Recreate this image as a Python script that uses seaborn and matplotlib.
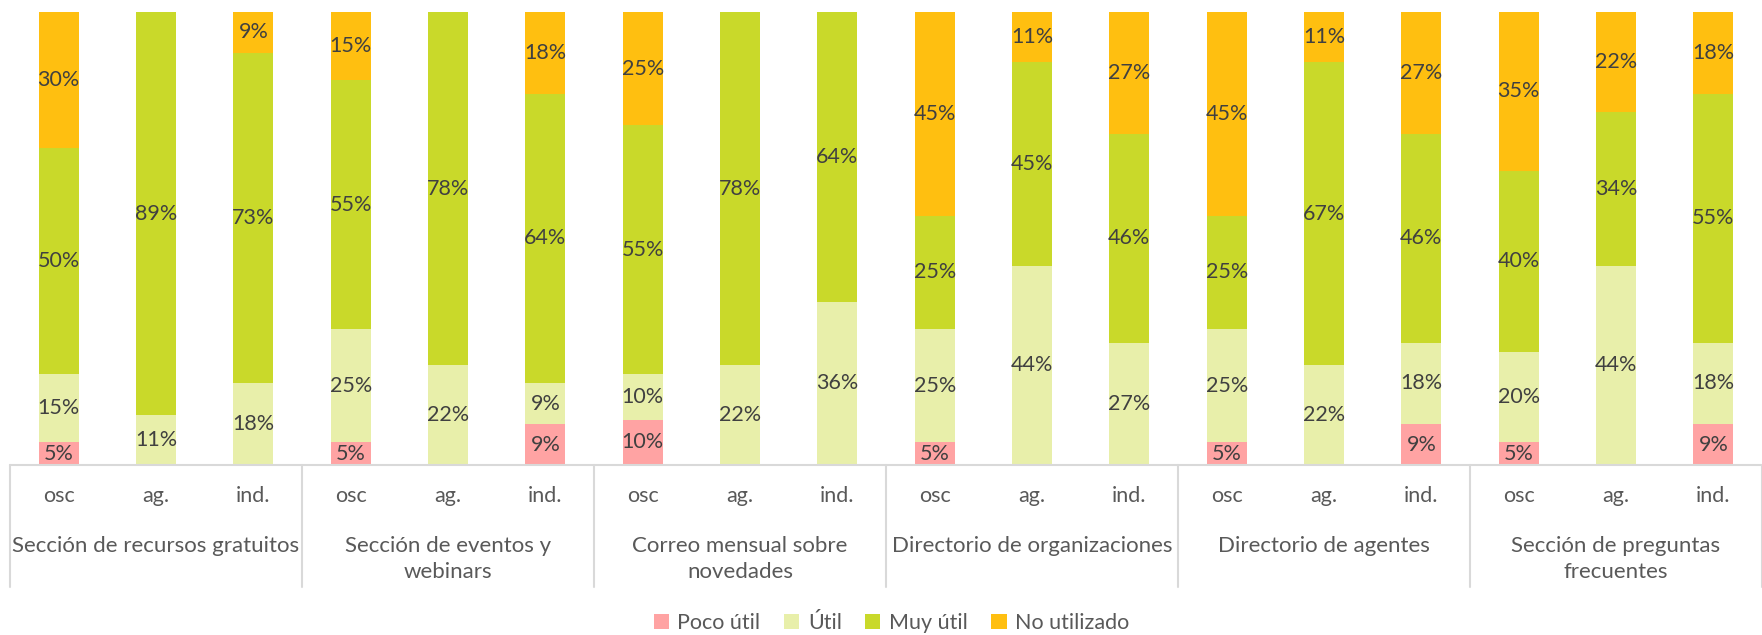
import matplotlib
matplotlib.use("Agg")
import matplotlib.pyplot as plt
import seaborn as sns
import pandas as pd
import numpy as np
from matplotlib.patches import Patch

groups = ["Sección de recursos gratuitos", "Sección de eventos y\nwebinars",
          "Correo mensual sobre\nnovedades", "Directorio de organizaciones",
          "Directorio de agentes", "Sección de preguntas\nfrecuentes"]
subgroups = ["osc", "ag.", "ind."]

series = ["Poco útil", "Útil", "Muy útil", "No utilizado"]
poco_util = [5, 0, 0, 5, 0, 9, 10, 0, 0, 5, 0, 0, 5, 0, 9, 5, 0, 9]
util = [15, 11, 18, 25, 22, 9, 10, 22, 36, 25, 44, 27, 25, 22, 18, 20, 44, 18]
muy_util = [50, 89, 73, 55, 78, 64, 55, 78, 64, 25, 45, 46, 25, 67, 46, 40, 34, 55]
no_utilizado = [30, 0, 9, 15, 0, 18, 25, 0, 0, 45, 11, 27, 45, 11, 27, 35, 22, 18]

colors = ["#FFA3A3", "#E8EFAA", "#C9D92A", "#FFBF10"]
text_col = "#404040"
axis_col = "#595959"

sns.set_theme(style="white")
plt.rcParams["font.family"] = ["Lato", "DejaVu Sans"]

vals = np.array([poco_util, util, muy_util, no_utilizado])
cum = vals.cumsum(axis=0)
n = vals.shape[1]
df = pd.DataFrame({"pos": np.arange(n)})
for k in range(4):
    df[f"cum{k}"] = cum[k]

W, H = 1762, 635
fig = plt.figure(figsize=(W / 100, H / 100), dpi=100)
ax = fig.add_axes([10 / W, 170 / H, 1752 / W, 453 / H])

# overlapping cumulative bars, tallest first
for k in range(3, -1, -1):
    sns.barplot(data=df, x="pos", y=f"cum{k}", color=colors[k], width=0.41,
                saturation=1, linewidth=0, ax=ax)

for k in range(4):
    for i in range(n):
        v = vals[k, i]
        if v > 0:
            ax.text(i, cum[k, i] - v / 2, f"{v}%", ha="center", va="center",
                    fontsize=15.5, color=text_col)

ax.set_xlim(-0.5, n - 0.5)
ax.set_ylim(0, 100)
ax.set_xticks([])
ax.set_yticks([])
ax.set_xlabel("")
ax.set_ylabel("")
for s in ax.spines.values():
    s.set_visible(False)

tr = ax.get_xaxis_transform()
ax.plot([-0.5, n - 0.5], [0, 0], color="#D9D9D9", lw=1.5, transform=tr, clip_on=False)
for b in np.arange(-0.5, n, 3):
    ax.plot([b, b], [0, -122 / 453], color="#D9D9D9", lw=1.5, transform=tr, clip_on=False)

for i in range(n):
    ax.text(i, -31 / 453, subgroups[i % 3], ha="center", va="center",
            fontsize=15.5, color=axis_col, transform=tr)
for g, name in enumerate(groups):
    ax.text(g * 3 + 1, -71 / 453, name, ha="center", va="top", fontsize=16,
            color=axis_col, transform=tr, linespacing=1.38)

handles = [Patch(facecolor=c, edgecolor="none") for c in colors]
fig.legend(handles, series, loc="center", bbox_to_anchor=(0.506, 12 / H), ncol=4,
           frameon=False, handlelength=0.7, handleheight=0.7, columnspacing=1.1,
           handletextpad=0.4, prop={"size": 15.5}, labelcolor=axis_col)

fig.savefig("out.png", dpi=100)
